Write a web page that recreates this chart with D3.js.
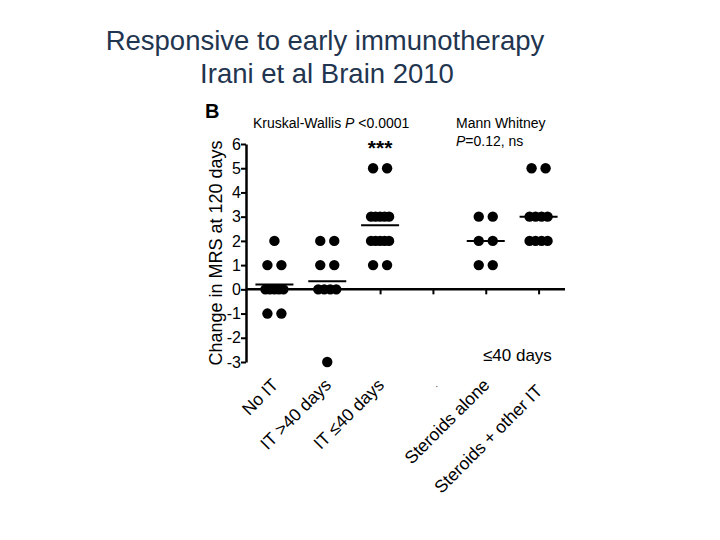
<!DOCTYPE html>
<html>
<head>
<meta charset="utf-8">
<script src="https://cdn.jsdelivr.net/npm/d3@7"></script>
<style>
  body { margin: 0; background: #fff; }
  text { font-family: "Liberation Sans", Arial, sans-serif; }
</style>
</head>
<body>
<div id="chart"></div>
<script>
// groups along the x axis (index 3 is the empty gap)
const groups = ["No IT", "IT >40 days", "IT \u226440 days", ".", "Steroids alone", "Steroids + other IT"];

// change in MRS per patient, one array per group
const noIT = [2, 1, 1, 0, 0, 0, 0, 0, -1, -1];
const itLate = [2, 2, 1, 1, 0, 0, 0, 0, -3];
const itEarly = [5, 5, 3, 3, 3, 3, 3, 2, 2, 2, 2, 2, 1, 1];
const gap = [];
const steroidsAlone = [3, 3, 2, 2, 1, 1];
const steroidsOther = [5, 5, 3, 3, 3, 3, 2, 2, 2, 2];
const series = [noIT, itLate, itEarly, gap, steroidsAlone, steroidsOther];

const yTicks = [6, 5, 4, 3, 2, 1, 0, -1, -2, -3];

const width = 720, height = 540;
const svg = d3.select("#chart").append("svg")
  .attr("width", width)
  .attr("height", height);

// title
svg.append("text")
  .attr("x", 325).attr("y", 50)
  .attr("text-anchor", "middle")
  .attr("fill", "#1f3550")
  .style("font-size", "27.5px")
  .text("Responsive to early immunotherapy");
svg.append("text")
  .attr("x", 327).attr("y", 83)
  .attr("text-anchor", "middle")
  .attr("fill", "#1f3550")
  .style("font-size", "27.5px")
  .text("Irani et al Brain 2010");

// scales
const x = d3.scaleLinear().domain([-0.5, 5.5]).range([248, 565]);
const y = d3.scaleLinear().domain([-3, 6]).range([362, 144]);

// y axis
const yAxis = svg.append("g")
  .attr("transform", "translate(246,0)")
  .call(d3.axisLeft(y).tickValues(yTicks).tickSize(5).tickSizeOuter(0).tickFormat(d => String(d)));
yAxis.select(".domain").attr("stroke", "#000").attr("stroke-width", 2.5);
yAxis.selectAll(".tick line").attr("stroke-width", 2);
yAxis.selectAll(".tick text")
  .attr("x", -5)
  .style("font-size", "16px")
  .style("font-family", "Liberation Sans, Arial, sans-serif")
  .attr("fill", "#000");

// x axis through zero
const xAxis = svg.append("g")
  .attr("transform", `translate(0,${y(0)})`)
  .call(d3.axisBottom(x).tickValues([2, 3, 4, 5]).tickSize(5).tickSizeOuter(0).tickFormat(""));
xAxis.select(".domain").attr("stroke", "#000").attr("stroke-width", 2.5)
  .attr("d", `M246,0H565`);
xAxis.selectAll(".tick line").attr("stroke-width", 2);

// x category labels, rotated
svg.selectAll(".cat")
  .data(groups)
  .enter().append("text")
  .attr("class", "cat")
  .attr("transform", (d, i) => `translate(${x(i) + 5},${i === 5 ? 392 : 386}) rotate(-45)`)
  .attr("text-anchor", "end")
  .style("font-size", (d, i) => i === 3 ? "9px" : "17.5px")
  .attr("fill", "#000")
  .text(d => d);

// dots: spread each value row around the group centre
const dots = [];
series.forEach((vals, gi) => {
  const counts = d3.rollup(vals, v => v.length, v => v);
  counts.forEach((n, v) => {
    const step = n <= 2 ? 14 : Math.min(14, 18 / (n - 1));
    for (let k = 0; k < n; k++) {
      dots.push({g: gi, v: v, off: (k - (n - 1) / 2) * step});
    }
  });
});

svg.selectAll(".dot")
  .data(dots)
  .enter().append("circle")
  .attr("class", "dot")
  .attr("cx", d => x(d.g) + d.off)
  .attr("cy", d => y(d.v))
  .attr("r", 5.2)
  .attr("fill", "#000");

// mean lines
svg.selectAll(".mean")
  .data(series.map((vals, i) => ({g: i, m: d3.mean(vals)})).filter(d => d.m !== undefined))
  .enter().append("line")
  .attr("class", "mean")
  .attr("x1", d => x(d.g) - 19)
  .attr("x2", d => x(d.g) + 19)
  .attr("y1", d => y(d.m))
  .attr("y2", d => y(d.m))
  .attr("stroke", "#000")
  .attr("stroke-width", 2);

// y label
svg.append("text")
  .attr("transform", `translate(222,${y(1.5)}) rotate(-90)`)
  .attr("text-anchor", "middle")
  .style("font-size", "18px")
  .attr("fill", "#000")
  .text("Change in MRS at 120 days");

// panel letter
svg.append("text")
  .attr("x", 205).attr("y", 118)
  .style("font-size", "20px")
  .style("font-weight", "bold")
  .text("B");

// statistics annotations
const kw = svg.append("text")
  .attr("x", 253).attr("y", 128)
  .style("font-size", "14px");
kw.append("tspan").text("Kruskal-Wallis ");
kw.append("tspan").style("font-style", "italic").text("P");
kw.append("tspan").text(" <0.0001");

svg.append("text")
  .attr("x", x(2)).attr("y", 155)
  .attr("text-anchor", "middle")
  .style("font-size", "21px")
  .style("font-weight", "bold")
  .text("***");

svg.append("text")
  .attr("x", 456).attr("y", 128)
  .style("font-size", "14px")
  .text("Mann  Whitney");
const mw = svg.append("text")
  .attr("x", 456).attr("y", 146)
  .style("font-size", "14px");
mw.append("tspan").style("font-style", "italic").text("P");
mw.append("tspan").text("=0.12, ns");

svg.append("text")
  .attr("x", 483).attr("y", 361)
  .style("font-size", "17px")
  .text("\u226440 days");
</script>
</body>
</html>
